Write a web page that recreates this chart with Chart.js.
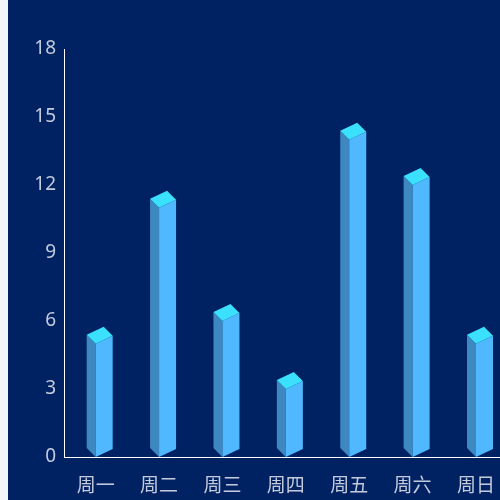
<!DOCTYPE html>
<html>
<head>
<meta charset="utf-8">
<script src="https://cdn.jsdelivr.net/npm/chart.js@4"></script>
<style>
  html, body { margin: 0; padding: 0; background: #f3f5f9; overflow: hidden; }
  #wrap { position: absolute; left: 8px; top: 0; width: 503px; height: 500px; background: #012262; }
  #chart { display: block; }
</style>
</head>
<body>
<div id="wrap"><canvas id="chart" width="503" height="500"></canvas></div>
<script>
const days = ['周一', '周二', '周三', '周四', '周五', '周六', '周日'];
const values = [5, 11, 6, 3, 14, 12, 5];
const yTicks = [0, 3, 6, 9, 12, 15, 18];

// pseudo 3d prism drawn on top of the (invisible) bars
const cubePlugin = {
    id: 'cube',
    afterDatasetsDraw(chart) {
        const ctx = chart.ctx;
        const meta = chart.getDatasetMeta(0);
        const lx = -9, ly = -9, rx = 17, ry = -8;
        meta.data.forEach(function(el) {
            const x = el.x, y = el.y, b = el.base;
            ctx.save();
            // left face
            ctx.fillStyle = '#3d88c0';
            ctx.beginPath();
            ctx.moveTo(x, y);
            ctx.lineTo(x + lx, y + ly);
            ctx.lineTo(x + lx, b + ly);
            ctx.lineTo(x, b);
            ctx.closePath();
            ctx.fill();
            // right face
            ctx.fillStyle = '#50b8ff';
            ctx.beginPath();
            ctx.moveTo(x, y);
            ctx.lineTo(x + rx, y + ry);
            ctx.lineTo(x + rx, b + ry);
            ctx.lineTo(x, b);
            ctx.closePath();
            ctx.fill();
            // top
            ctx.fillStyle = '#3be0fd';
            ctx.beginPath();
            ctx.moveTo(x, y);
            ctx.lineTo(x + lx, y + ly);
            ctx.lineTo(x + lx + rx, y + ly + ry);
            ctx.lineTo(x + rx, y + ry);
            ctx.closePath();
            ctx.fill();
            ctx.restore();
        });
    }
};

const ctx = document.getElementById('chart').getContext('2d');
new Chart(ctx, {
    type: 'bar',
    data: {
        labels: days,
        datasets: [{
            data: values,
            backgroundColor: 'transparent',
            borderWidth: 0
        }]
    },
    options: {
        responsive: false,
        animation: false,
        layout: { padding: { top: 49, left: 0, right: 0, bottom: 0 } },
        plugins: {
            legend: { display: false },
            tooltip: { enabled: false }
        },
        scales: {
            x: {
                grid: { display: false, drawTicks: false },
                border: { color: '#ffffff', width: 1 },
                ticks: {
                    color: '#c3cbdd',
                    padding: 16,
                    font: { size: 19, family: '"Noto Sans CJK SC", sans-serif' }
                },
                afterFit(scale) { scale.height = 43; }
            },
            y: {
                min: 0,
                max: 18,
                afterBuildTicks(scale) { scale.ticks = yTicks.map(v => ({ value: v })); },
                grid: { display: false, drawTicks: false },
                border: { color: '#ffffff', width: 1 },
                ticks: {
                    color: '#c3cbdd',
                    padding: 8,
                    font: { size: 19, family: '"Noto Sans", sans-serif' }
                },
                afterFit(scale) { scale.width = 56; }
            }
        }
    },
    plugins: [cubePlugin]
});
</script>
</body>
</html>
